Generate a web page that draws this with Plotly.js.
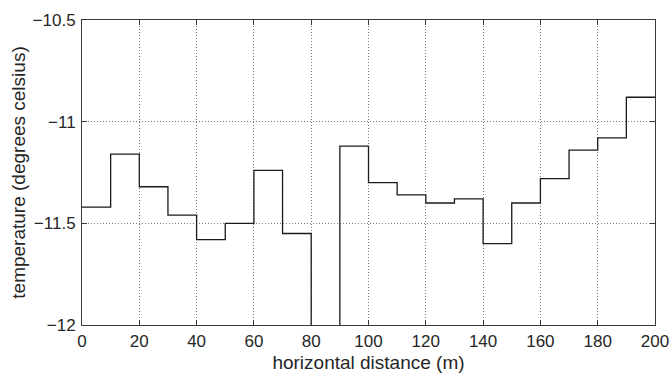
<!DOCTYPE html>
<html>
<head>
<meta charset="utf-8">
<script src="https://cdn.plot.ly/plotly-3.0.1.min.js"></script>
<style>html,body{margin:0;padding:0;background:#fff}#chart{width:671px;height:376px}</style>
</head>
<body>
<div id="chart"></div>
<script>
// bin edges (m)
const distanceEdges = [0,10,20,30,40,50,60,70,80,90,100,110,120,130,140,150,160,170,180,190,200];
// temperature per 10 m bin (degrees celsius); bin 80-90 is below the axis range
const temperature = [-11.42,-11.16,-11.32,-11.46,-11.58,-11.50,-11.24,-11.55,-12.6,-11.12,
                     -11.30,-11.36,-11.40,-11.38,-11.60,-11.40,-11.28,-11.14,-11.08,-10.88];
const xTicks = [0,20,40,60,80,100,120,140,160,180,200];
const yTicks = [-12,-11.5,-11,-10.5];
const yTickLabels = ['\u221212','\u221211.5','\u221211','\u221210.5'];

const yStep = temperature.concat([temperature[temperature.length-1]]);

const trace = {
  x: distanceEdges,
  y: yStep,
  type: 'scatter',
  mode: 'lines',
  line: {shape: 'hv', color: '#1a1a1a', width: 1.3},
  cliponaxis: true,
  hoverinfo: 'skip'
};

const FONT = 'Liberation Sans, Arial, sans-serif';
const axisCommon = {
  showline: true, linecolor: '#3a3a3a', linewidth: 1, mirror: 'ticks',
  ticks: 'inside', ticklen: 5, tickcolor: '#3a3a3a', tickwidth: 1,
  showgrid: true, gridcolor: '#7a7a7a', griddash: '1px,2px', gridwidth: 1,
  zeroline: false, automargin: false,
  tickfont: {family: FONT, size: 17, color: '#262626'}
};

const layout = {
  width: 671, height: 376,
  margin: {l: 82, r: 15.5, t: 20, b: 50.5},
  paper_bgcolor: '#fff', plot_bgcolor: '#fff',
  showlegend: false,
  xaxis: Object.assign({}, axisCommon, {
    range: [0, 200], tickvals: xTicks, ticktext: xTicks.map(String),
    ticklabelstandoff: 1,
    title: {text: 'horizontal distance (m)', standoff: 5,
            font: {family: FONT, size: 19, color: '#262626'}}
  }),
  yaxis: Object.assign({}, axisCommon, {
    range: [-12, -10.5], tickvals: yTicks, ticktext: yTickLabels,
    ticklabelstandoff: 2,
    title: {text: 'temperature (degrees celsius)', standoff: 1,
            font: {family: FONT, size: 19, color: '#262626'}}
  })
};

Plotly.newPlot('chart', [trace], layout, {staticPlot: true, displayModeBar: false});
</script>
</body>
</html>
